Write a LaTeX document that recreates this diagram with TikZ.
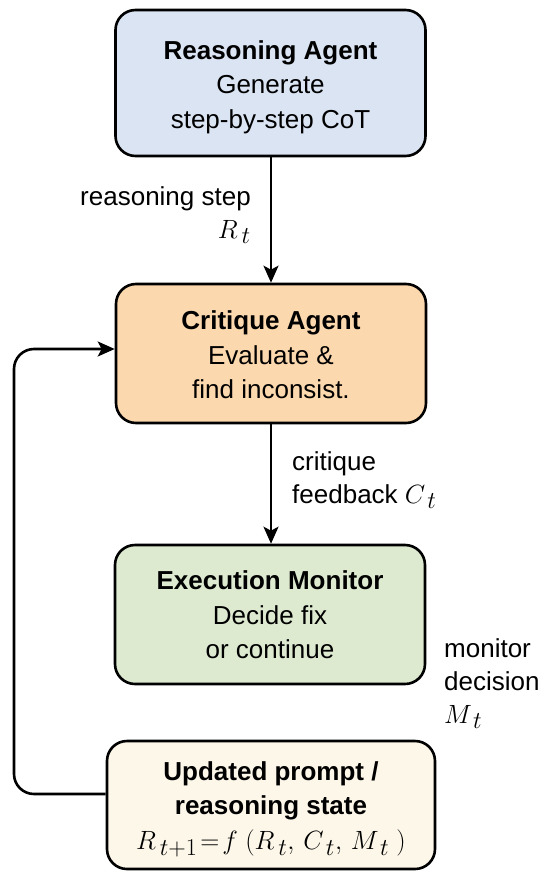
\RequirePackage{fix-cm}
\documentclass[tikz,border=0pt]{standalone}
\usepackage{graphicx}
\usepackage{fontspec}
\setmainfont{Liberation Sans}
\usetikzlibrary{arrows.meta,calc}
\DeclareMathSizes{26}{24}{22}{18}
\definecolor{cblue}{RGB}{218,228,243}
\definecolor{cpeach}{RGB}{252,216,174}
\definecolor{cgreen}{RGB}{221,234,208}
\definecolor{ccream}{RGB}{253,247,233}
\newcommand\bxtext[2]{\raisebox{#1}[\height][\depth]{\begin{tabular}{@{}c@{}}#2\end{tabular}}}
\newcommand\sbx[1]{_{\,#1}}
\newcommand\mymath[1]{\scalebox{1.1}{$#1$}}
\tikzset{
  box/.style={draw=black, line width=2.6pt, rounded corners=20pt,
    minimum width=310pt, inner sep=0pt, font=\fontsize{26}{34.5}\selectfont},
  lbl/.style={inner sep=0pt, font=\fontsize{26}{33}\selectfont},
  arr/.style={line width=2.6pt, -{Stealth[length=17pt,width=15pt,inset=4pt]}},
}
\begin{document}
\begin{tikzpicture}[x=1pt,y=-1pt]
\useasboundingbox (0,0) rectangle (542,872);
\node[box, fill=cblue, minimum height=146pt] (rea) at (270.5,83)
  {\bxtext{-4pt}{\textbf{Reasoning Agent}\\Generate\\step-by-step CoT}};
\node[box, fill=cpeach, minimum height=139pt] (cri) at (271,353.5)
  {\bxtext{-4pt}{\textbf{Critique Agent}\\Evaluate \&\\find inconsist.}};
\node[box, fill=cgreen, minimum height=139pt] (exe) at (270,614.5)
  {\bxtext{-3pt}{\textbf{Execution Monitor}\\Decide fix\\or continue}};
\node[box, fill=ccream, minimum width=328pt, minimum height=128pt] (upd) at (271,805)
  {\bxtext{-3pt}{\textbf{Updated prompt /}\\\textbf{reasoning state}\\\mymath{R\sbx{t+1}\!=\!f\;(R\sbx{t},\,C\sbx{t},\,M\sbx{t}\;)}}};
\draw[arr] (rea.south -| 271,0) -- (cri.north -| 271,0);
\draw[arr] (cri.south -| 271,0) -- (exe.north -| 271,0);
\coordinate (lb) at (14,794);
\coordinate (lt) at (14,349);
\draw[arr, rounded corners=20pt] ([yshift=11pt]upd.west) -- (lb) -- (lt) -- (cri.west |- lt);
\node[lbl, align=right, anchor=north east] (l1) at (251,186) {reasoning step\\\mymath{R\sbx{t}}\hspace{6pt}};
\node[lbl, align=left, anchor=north west] (l2) at (292,451) {critique\\feedback \mymath{C\sbx{t}}};
\node[lbl, align=left, anchor=north west] (l3) at (444,638) {monitor\\decision\\\mymath{M\sbx{t}}};
\end{tikzpicture}
\end{document}
